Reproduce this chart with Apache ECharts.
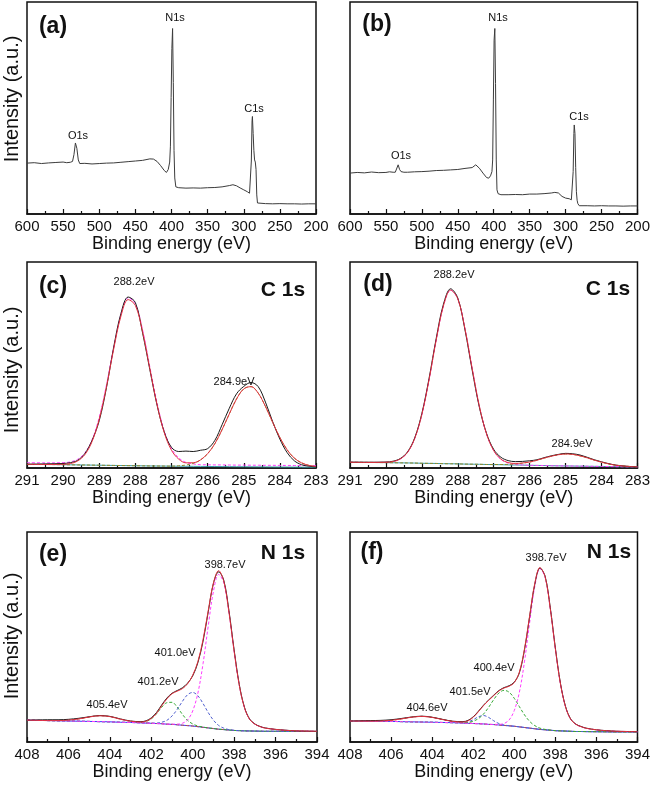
<!DOCTYPE html>
<html><head><meta charset="utf-8">
<script src="https://cdn.jsdelivr.net/npm/echarts/dist/echarts.min.js"></script>
<style>html,body{margin:0;padding:0;background:#fff}#c{width:653px;height:786px}</style>
</head><body><div id="c"></div>
<script>
// ---------- survey spectra (a), (b) ----------
const surveyE = [600,590,580,570,560,550,545,540,537,535,
 533,531,529,527,525,520,510,500,490,480,
 470,460,450,440,430,425,420,415,410,407,
 404.5,402.5,401.5,400.5,399.5,398.5,397.5,396.5,395.5,394,
 392,390,380,370,360,350,340,330,320,315,
 310,305,300,295,292,290.5,289.5,288.5,288,287,
 286,285,284,283,282,281,280,270,260,250,
 240,230,220,210,200];
const surveyA = [24.0,24.2,23.8,24.1,24.3,24.5,24.2,24.4,24.8,28.0,
 33.5,31.0,25.5,23.8,23.6,23.9,23.6,23.8,24.0,24.1,
 24.4,24.7,25.0,25.3,26.0,25.9,24.8,22.8,20.5,19.6,
 21.0,24.5,32.0,55.0,78.0,87.5,62.0,30.0,17.0,12.8,
 12.5,12.4,12.2,12.3,12.2,12.4,12.5,12.8,13.4,13.8,
 13.3,12.3,11.4,10.5,9.8,9.2,25.0,44.0,46.0,38.0,
 30.0,25.5,24.5,21.0,9.0,5.2,4.9,4.9,4.8,4.9,
 4.8,4.8,4.7,4.8,4.8];
const surveyB = [19.3,19.6,19.4,19.8,19.5,19.6,19.9,19.7,19.7,20.5,
 23.2,21.0,20.0,19.8,19.7,19.7,19.9,20.0,20.2,20.5,
 20.6,20.8,21.0,21.5,21.9,23.2,21.6,19.3,17.2,16.9,
 18.0,20.0,25.5,53.8,82.0,87.5,61.6,25.5,11.4,9.6,
 9.1,9.1,9.1,9.2,9.1,9.4,9.4,9.6,9.9,10.2,
 9.9,8.3,7.5,7.2,6.7,7.0,20.0,38.0,42.0,38.0,
 22.0,10.5,6.5,4.9,4.1,3.9,3.9,3.9,3.8,3.9,
 3.8,3.8,3.7,3.8,3.8];

// ---------- C 1s (c), (d) ----------
const cE = [291,290.5,290,289.8,289.6,289.4,289.2,289,288.8,288.6,
 288.4,288.2,288,287.8,287.6,287.4,287.2,287,286.8,286.6,
 286.4,286.2,286,285.8,285.6,285.4,285.2,285,284.8,284.6,
 284.4,284.2,284,283.8,283.6,283.4,283.2,283];
const cRaw = [1.8,2.0,2.2,2.6,3.7,7.0,13.4,23.0,39.0,58.7,
 75.0,83.0,80.3,65.5,47.8,30.5,17.5,10.0,8.0,8.2,
 8.0,8.6,9.4,13.4,21.0,29.0,36.0,39.6,41.5,39.5,
 32.0,22.5,14.0,7.5,3.5,1.6,0.9,0.6];
const cFit = [1.8,1.7,1.8,2.15,3.4,6.45,12.8,23.75,39.5,57.75,
 73.7,81.75,78.9,66.15,48.3,30.8,17.1,8.6,4.3,2.5,
 2.55,3.9,6.95,11.8,18.6,26.25,33.5,38.4,39.5,36.35,
 29.9,22.2,14.8,8.85,4.8,2.5,1.3,0.7];
const cPeak288 = [2.6,2.5,2.6,2.95,4.2,7.25,13.6,24.6,40.3,58.6,
 74.5,82.6,79.7,67.0,49.1,31.6,17.9,9.4,4.9,2.7,
 2.0,1.6,1.55,1.5,1.5,1.45,1.4,1.4,1.35,1.35,
 1.3,1.3,1.25,1.25,1.2,1.2,1.15,1.15];
const cPeak285 = [1.8,1.7,1.6,1.55,1.5,1.45,1.4,1.35,1.3,1.25,
 1.2,1.15,1.1,1.05,1.0,0.97,0.94,0.9,1.07,1.44,
 2.2,3.87,6.94,11.8,18.6,26.25,33.5,38.4,39.5,36.35,
 29.9,22.2,14.8,8.85,4.8,2.5,1.27,0.65];
const cBg = [1.8,1.7,1.6,1.55,1.5,1.45,1.4,1.35,1.3,1.25,
 1.2,1.15,1.1,1.05,1.0,0.97,0.94,0.9,0.87,0.84,
 0.8,0.77,0.74,0.71,0.68,0.65,0.62,0.6,0.57,0.55,
 0.52,0.5,0.47,0.45,0.42,0.4,0.37,0.35];

const dRaw = [2.8,2.8,2.9,3.3,4.6,7.8,14.6,26.5,43.5,63.0,
 79.5,87.0,82.5,67.0,47.5,29.5,16.8,9.0,5.2,3.6,
 3.1,3.2,3.5,4.0,5.0,5.9,6.6,7.1,6.9,6.3,
 5.2,4.0,3.0,2.1,1.4,1.0,0.7,0.5];
const dFit = [2.8,2.7,2.77,3.15,4.4,7.55,14.3,26.0,42.85,62.2,
 78.7,86.35,82.1,67.5,48.25,30.0,16.5,8.4,4.3,2.65,
 2.2,2.43,2.9,3.75,4.8,5.7,6.45,6.8,6.6,5.9,
 4.95,3.8,2.85,2.0,1.35,0.97,0.72,0.57];
const dPeak288 = [2.8,2.7,2.77,3.15,4.4,7.55,14.3,26.0,42.85,62.2,
 78.7,86.35,82.1,67.5,48.25,30.0,16.5,8.35,4.2,2.4,
 1.7,1.47,1.3,1.25,1.2,1.1,1.05,1.0,0.95,0.9,
 0.85,0.8,0.75,0.7,0.65,0.6,0.55,0.5];
const dPeak285 = [2.8,2.7,2.6,2.55,2.5,2.45,2.4,2.3,2.25,2.2,
 2.1,2.05,2.0,1.9,1.85,1.8,1.7,1.7,1.7,1.75,
 1.95,2.36,2.9,3.75,4.8,5.7,6.45,6.8,6.6,5.9,
 4.95,3.8,2.85,2.0,1.35,0.97,0.72,0.57];
const dBg = [2.8,2.7,2.6,2.55,2.5,2.45,2.4,2.3,2.25,2.2,
 2.1,2.05,2.0,1.9,1.85,1.8,1.7,1.65,1.6,1.5,
 1.45,1.4,1.3,1.25,1.2,1.1,1.05,1.0,0.95,0.9,
 0.85,0.8,0.75,0.7,0.65,0.6,0.55,0.5];

// ---------- N 1s (e), (f) ----------
const nE = [408,407.5,407,406.5,406,405.5,405,404.5,404,403.5,
 403,402.5,402.25,402,401.75,401.5,401.25,401,400.75,400.5,
 400.25,400,399.75,399.5,399.25,399,398.75,398.5,398.25,398,
 397.75,397.5,397.25,397,396.75,396.5,396,395.5,395,394.5,
 394];
const eBg = [10.4,10.3,10.2,10.1,10.0,9.9,9.8,9.7,9.6,9.4,
 9.3,9.1,9.0,8.9,8.8,8.7,8.5,8.4,8.2,8.0,
 7.8,7.6,7.3,7.0,6.7,6.4,6.1,5.9,5.7,5.5,
 5.4,5.3,5.25,5.2,5.15,5.1,5.1,5.05,5.0,5.0,
 5.0];
const eFit = [10.4,10.3,10.2,10.2,10.4,11.0,11.9,12.5,12.1,10.9,
 9.9,9.5,9.9,11.2,13.6,17.2,20.5,23.0,24.2,25.4,
 27.7,31.8,38.3,48.8,62.6,75.7,81.6,76.6,61.8,43.2,
 26.9,16.3,10.75,8.5,7.35,6.6,6.0,5.55,5.3,5.2,
 5.1];
const eRaw = [10.4,10.5,10.6,10.6,10.8,11.3,12.0,12.6,12.2,11.0,
 10.0,9.7,10.1,11.5,14.0,17.6,20.9,23.2,24.5,25.8,
 28.0,31.5,37.8,48.0,62.0,75.5,81.0,77.0,62.5,43.8,
 27.3,16.5,10.9,8.6,7.4,6.7,6.0,5.6,5.3,5.2,
 5.1];
const ePeak405 = [10.4,10.3,10.21,10.2,10.4,11.0,11.9,12.5,12.1,10.9,
 9.9,9.3,9.1,8.95,8.8,8.7,8.5,8.4,8.2,8.0,
 7.8,7.6,7.3,7.0,6.7,6.4,6.1,5.9,5.7,5.5,
 5.4,5.3,5.25,5.2,5.15,5.1,5.1,5.05,5.0,5.0,
 5.0];
const ePeak401a = [10.4,10.3,10.2,10.1,10.0,9.9,9.8,9.7,9.6,9.4,
 9.3,9.3,9.8,11.0,13.4,16.5,18.7,18.9,16.6,13.2,
 10.3,8.6,7.6,7.1,6.7,6.4,6.1,5.9,5.7,5.5,
 5.4,5.3,5.25,5.2,5.15,5.1,5.1,5.05,5.0,5.0,
 5.0];
const ePeak401b = [10.4,10.3,10.2,10.1,10.0,9.9,9.8,9.7,9.6,9.4,
 9.3,9.1,9.0,8.96,9.0,9.4,10.3,12.4,15.5,19.3,
 22.5,23.6,22.0,18.3,14.0,10.4,7.9,6.6,5.9,5.56,
 5.4,5.3,5.25,5.2,5.15,5.1,5.1,5.05,5.0,5.0,
 5.0];
const ePeak398 = [10.4,10.3,10.2,10.1,10.0,9.9,9.8,9.7,9.6,9.4,
 9.3,9.1,9.0,8.9,8.8,8.7,8.5,8.5,8.5,8.9,
 10.5,14.8,23.3,37.4,55.3,71.7,79.8,75.9,61.6,43.1,
 26.9,16.3,10.75,8.5,7.35,6.6,6.0,5.55,5.3,5.2,
 5.1];

const fBg = [10.0,9.95,9.9,9.85,9.8,9.7,9.6,9.5,9.4,9.3,
 9.2,9.0,8.9,8.8,8.7,8.6,8.4,8.3,8.1,7.9,
 7.7,7.5,7.2,6.9,6.6,6.3,6.0,5.8,5.6,5.4,
 5.3,5.2,5.1,5.0,5.0,4.95,4.9,4.85,4.8,4.8,
 4.8];
const fFit = [10.0,9.95,9.93,10.0,10.3,11.0,11.8,12.2,11.7,10.7,
 9.8,9.5,10.1,11.75,14.4,17.3,19.8,22.1,24.3,25.7,
 26.55,28.3,33.4,44.5,60.2,75.6,83.1,78.7,63.7,44.4,
 27.6,16.6,10.8,8.4,7.3,6.55,5.8,5.35,5.1,5.0,
 4.9];
const fRaw = [10.0,10.1,10.2,10.3,10.6,11.2,11.9,12.3,11.8,10.8,
 9.9,9.7,10.3,12.0,14.6,17.5,20.0,22.3,24.5,25.9,
 26.8,28.5,33.0,44.0,59.8,75.2,82.8,79.0,64.2,44.8,
 27.9,16.8,10.9,8.5,7.4,6.6,5.8,5.4,5.1,5.0,
 4.9];
const fPeak404 = [10.0,9.95,9.93,10.0,10.3,11.0,11.8,12.2,11.7,10.7,
 9.8,9.2,9.0,8.85,8.7,8.6,8.4,8.3,8.1,7.9,
 7.7,7.5,7.2,6.9,6.6,6.3,6.0,5.8,5.6,5.4,
 5.3,5.2,5.1,5.0,5.0,4.95,4.9,4.85,4.8,4.8,
 4.8];
const fPeak401 = [10.0,9.95,9.9,9.85,9.8,9.7,9.6,9.5,9.4,9.3,
 9.2,9.2,9.6,10.6,12.0,12.6,11.7,10.1,8.8,8.1,
 7.75,7.5,7.2,6.9,6.6,6.3,6.0,5.8,5.6,5.4,
 5.3,5.2,5.1,5.0,5.0,4.95,4.9,4.85,4.8,4.8,
 4.8];
const fPeak400 = [10.0,9.95,9.9,9.85,9.8,9.7,9.6,9.5,9.4,9.3,
 9.2,9.1,9.3,9.9,11.1,13.3,16.5,20.2,23.3,24.6,
 23.7,20.8,16.8,12.9,9.8,7.8,6.6,6.0,5.7,5.4,
 5.3,5.2,5.1,5.0,5.0,4.95,4.9,4.85,4.8,4.8,
 4.8];
const fPeak398 = [10.0,9.95,9.9,9.85,9.8,9.7,9.6,9.5,9.4,9.3,
 9.2,9.0,8.9,8.8,8.7,8.6,8.4,8.4,8.4,8.8,
 10.5,15.0,23.8,38.5,57.0,74.1,82.5,78.5,63.6,44.4,
 27.6,16.6,10.8,8.4,7.3,6.55,5.8,5.35,5.1,5.0,
 4.9];

// ---------- text ----------
const xName = 'Binding energy (eV)';
const yName = 'Intensity (a.u.)';

const FONT = 'Liberation Sans, Arial, Helvetica, sans-serif';
const pair = (xs, ys) => xs.map((x, i) => [x, ys[i]]);

const gridsPos = [
  {left:27, top:2, width:289, height:212},
  {left:350, top:2, width:289, height:212},
  {left:27, top:262, width:289, height:206},
  {left:350, top:262, width:289, height:206},
  {left:27, top:532, width:290, height:210},
  {left:350, top:532, width:289, height:210}
];
const ranges = [[200,600,50],[200,600,50],[283,291,1],[283,291,1],[394,408,2],[394,408,2]];

const grid = gridsPos.map(g => Object.assign({show:true, borderColor:'#111', borderWidth:1.5, backgroundColor:'rgba(0,0,0,0)'}, g));
const xAxis = ranges.map((r, i) => ({
  gridIndex:i, type:'value', inverse:true, min:r[0], max:r[1], interval:r[2],
  name:xName, nameLocation:'middle', nameGap:21,
  nameTextStyle:{fontSize:18, color:'#111', fontFamily:FONT},
  axisLine:{show:true, lineStyle:{color:'#111', width:1.5}},
  axisTick:{show:true, inside:true, length:5, lineStyle:{color:'#111', width:1.2}},
  minorTick:{show:true, splitNumber:2, length:3, lineStyle:{color:'#111', width:1.2}},
  axisLabel:{fontSize:15, color:'#111', margin:5, fontFamily:FONT},
  splitLine:{show:false}
}));
const yAxis = ranges.map((r, i) => ({
  gridIndex:i, type:'value', min:0, max:100, show:false
}));

function line(idx, xs, ys, color, opts) {
  opts = opts || {};
  return {
    type:'line', xAxisIndex:idx, yAxisIndex:idx, data:pair(xs, ys),
    showSymbol:false, symbol:'none', smooth:opts.smooth === undefined ? 0.35 : opts.smooth,
    lineStyle:{color:color, width:opts.width || 1, type:opts.dash ? [3,2] : 'solid'},
    z:opts.z || 2, animation:false, silent:true
  };
}
const COL = {raw:'#1a1a1a', fit:'#e2323f', mag:'#ff3cff', olive:'#8f8a2a', green:'#33a833',
  blue:'#5060d0', bump:'#b84a4a', bgC:'#3b9aa6', bgN:'#3a3aff', survey:'#3c3c3c'};

const series = [
  line(0, surveyE, surveyA, COL.survey, {smooth:false}),
  line(1, surveyE, surveyB, COL.survey, {smooth:false}),

  line(2, cE, cBg, COL.bgC),
  line(2, cE, cPeak288, COL.mag, {dash:true}),
  line(2, cE, cPeak285, COL.olive, {dash:true}),
  line(2, cE, cRaw, COL.raw, {z:3}),
  line(2, cE, cFit, COL.fit, {z:4}),

  line(3, cE, dBg, COL.bgC),
  line(3, cE, dPeak288, COL.mag, {dash:true}),
  line(3, cE, dPeak285, COL.olive, {dash:true}),
  line(3, cE, dRaw, COL.raw, {z:3}),
  line(3, cE, dFit, COL.fit, {z:4}),

  line(4, nE, eBg, COL.bgN),
  line(4, nE, ePeak405, COL.bump, {dash:true}),
  line(4, nE, ePeak401a, COL.green, {dash:true}),
  line(4, nE, ePeak401b, COL.blue, {dash:true}),
  line(4, nE, ePeak398, COL.mag, {dash:true}),
  line(4, nE, eRaw, COL.raw, {z:3}),
  line(4, nE, eFit, COL.fit, {z:4}),

  line(5, nE, fBg, COL.bgN),
  line(5, nE, fPeak404, COL.bump, {dash:true}),
  line(5, nE, fPeak401, COL.blue, {dash:true}),
  line(5, nE, fPeak400, COL.green, {dash:true}),
  line(5, nE, fPeak398, COL.mag, {dash:true}),
  line(5, nE, fRaw, COL.raw, {z:3}),
  line(5, nE, fFit, COL.fit, {z:4})
];

function txt(t, x, y, size, bold, rot) {
  return {type:'text', x:x, y:y, z:10, silent:true, rotation:rot || 0,
    style:{text:t, fill:'#111', font:(bold ? 'bold ' : '') + size + 'px ' + FONT,
      textAlign:'center', textVerticalAlign:'middle', align:'center', verticalAlign:'middle'}};
}
const graphic = [
  txt(yName, 12, 99, 20, false, Math.PI / 2),
  txt(yName, 12, 370, 20, false, Math.PI / 2),
  txt(yName, 12, 636, 20, false, Math.PI / 2),
  txt('(a)', 53, 27, 23, true), txt('(b)', 377, 25, 23, true),
  txt('(c)', 53, 287, 23, true), txt('(d)', 378, 285, 23, true),
  txt('(e)', 53, 555, 23, true), txt('(f)', 372, 553, 23, true),
  txt('C 1s', 283, 290, 21, true), txt('C 1s', 608, 289, 21, true),
  txt('N 1s', 283, 553, 21, true), txt('N 1s', 609, 552, 21, true),
  txt('O1s', 78, 136, 11), txt('N1s', 175, 18, 11), txt('C1s', 254, 109, 11),
  txt('O1s', 401, 156, 11), txt('N1s', 498, 18, 11), txt('C1s', 579, 117, 11),
  txt('288.2eV', 134, 282, 11), txt('284.9eV', 234, 382, 11),
  txt('288.2eV', 454, 275, 11), txt('284.9eV', 572, 444, 11),
  txt('398.7eV', 225, 565, 11), txt('401.0eV', 175, 653, 11),
  txt('401.2eV', 158, 682, 11), txt('405.4eV', 107, 705, 11),
  txt('398.7eV', 546, 558, 11), txt('400.4eV', 494, 668, 11),
  txt('401.5eV', 470, 692, 11), txt('404.6eV', 427, 708, 11)
];

const chart = echarts.init(document.getElementById('c'), null, {renderer:'canvas'});
chart.setOption({
  animation:false, backgroundColor:'#fff',
  textStyle:{fontFamily:FONT},
  grid:grid, xAxis:xAxis, yAxis:yAxis, series:series, graphic:graphic
});
</script></body></html>
